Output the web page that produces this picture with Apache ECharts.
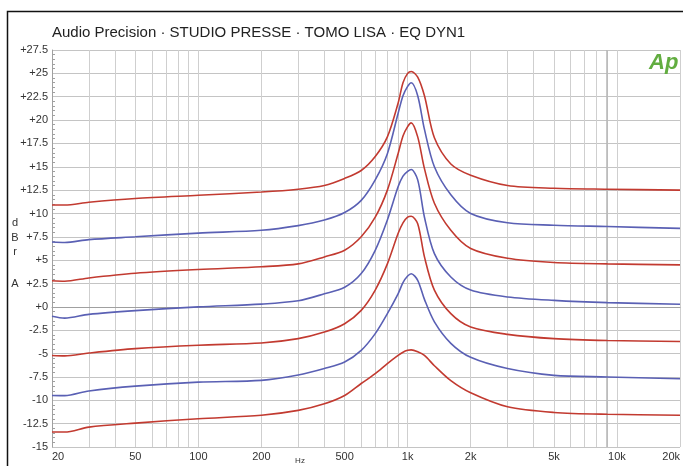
<!DOCTYPE html>
<html><head><meta charset="utf-8">
<script src="https://cdn.jsdelivr.net/npm/echarts@6/dist/echarts.min.js"></script>
<style>html,body{margin:0;padding:0;background:#fff}#c{width:683px;height:466px}</style>
</head><body><div id="c"></div>
<script>
// Frequencies (Hz)
var freqs = [20, 23, 30, 50, 100, 200, 300, 400, 500, 600, 700, 800, 900, 950, 1000, 1040, 1117, 1203, 1342, 1608, 2000, 3000, 5000, 9000, 20000];
// Level curves (dBr A), top to bottom
var red1  = [10.9, 10.9, 11.2, 11.6, 11.95, 12.3, 12.6, 13.0, 13.75, 14.6, 16.1, 18.2, 21.8, 24.0, 25.0, 25.2, 24.6, 22.6, 18.1, 15.3, 14.1, 13.0, 12.7, 12.6, 12.5];
var blue2 = [6.95, 6.9, 7.2, 7.5, 7.9, 8.2, 8.7, 9.3, 10.1, 11.4, 13.6, 16.4, 20.7, 22.6, 23.6, 24.0, 22.6, 19.0, 15.0, 12.0, 10.0, 9.0, 8.74, 8.6, 8.4];
var red3  = [2.8, 2.75, 3.1, 3.6, 4.0, 4.3, 4.6, 5.35, 6.06, 7.5, 9.6, 12.5, 16.4, 18.3, 19.3, 19.7, 18.2, 14.8, 11.1, 8.2, 6.25, 5.2, 4.75, 4.6, 4.5];
var blue4 = [-1.0, -1.2, -0.8, -0.4, 0.0, 0.3, 0.65, 1.4, 2.1, 3.57, 6.06, 9.3, 12.85, 14.0, 14.5, 14.7, 13.6, 9.6, 5.7, 3.2, 1.8, 1.06, 0.7, 0.46, 0.28];
var red5  = [-5.2, -5.25, -4.94, -4.47, -4.1, -3.87, -3.4, -2.7, -1.8, -0.37, 1.8, 4.6, 7.85, 9.0, 9.6, 9.7, 8.9, 5.35, 1.8, -0.72, -2.15, -2.94, -3.4, -3.6, -3.7];
var blue6 = [-9.48, -9.5, -9.0, -8.48, -8.05, -7.87, -7.3, -6.6, -5.9, -4.65, -2.86, -0.72, 1.4, 2.6, 3.3, 3.55, 2.85, 0.8, -1.6, -3.9, -5.4, -6.6, -7.33, -7.5, -7.7];
var red7  = [-13.4, -13.4, -12.87, -12.44, -11.97, -11.6, -11.08, -10.37, -9.48, -8.2, -7.15, -6.08, -5.2, -4.85, -4.65, -4.6, -4.8, -5.2, -6.3, -7.9, -9.2, -10.7, -11.3, -11.5, -11.6];
// Axis ticks
var gridFreqs = [20,30,40,50,60,70,80,90,100,200,300,400,500,600,700,800,900,1000,2000,3000,4000,5000,6000,7000,8000,9000,10000,20000];
var labelFreqs = [20, 50, 100, 200, 500, 1000, 2000, 5000, 10000, 20000];

var RED = '#c23a30', BLUE = '#5a60b4';
var curves = [[red1, RED], [blue2, BLUE], [red3, RED], [blue4, BLUE], [red5, RED], [blue6, BLUE], [red7, RED]];
function lg(f){ return Math.log10(f); }

var series = curves.map(function(c, i){
  return {
    type: 'line', smooth: 0.3, showSymbol: false, silent: true,
    data: freqs.map(function(f, k){ return [lg(f), c[0][k]]; }),
    lineStyle: { color: c[1], width: 1.6 }, z: 5,
    markLine: i === 0 ? { silent: true, symbol: 'none', label: {show: false},
      lineStyle: { color: '#b6b6b6', width: 1.5, type: 'solid' },
      data: [{ xAxis: lg(9000) }] } : undefined
  };
});

var chart = echarts.init(document.getElementById('c'), null, {renderer: 'canvas'});
chart.setOption({
  animation: false,
  backgroundColor: '#fff',
  grid: { left: 52, right: -2, top: 50, bottom: 19, show: false },
  xAxis: {
    type: 'value', min: lg(20), max: lg(20000),
    axisLine: { show: true, lineStyle: { color: '#a0a0a0' } },
    axisTick: { show: false, customValues: gridFreqs.map(lg) },
    axisLabel: { customValues: labelFreqs.map(lg), fontSize: 11, color: '#333', margin: 4,
      fontFamily: 'Liberation Sans', alignMinLabel: 'left', alignMaxLabel: 'right',
      formatter: function(v){ var f = Math.round(Math.pow(10, v)); return f >= 1000 ? (f/1000) + 'k' : String(f); } },
    splitLine: { show: true, lineStyle: { color: '#cfcfcf', width: 1 } }
  },
  yAxis: {
    type: 'value', min: -15, max: 27.5, interval: 2.5,
    axisLine: { show: true, lineStyle: { color: '#a0a0a0' } },
    axisTick: { show: false, inside: true },
    minorTick: { show: true, splitNumber: 5, length: 3, lineStyle: { color: '#a0a0a0' } },
    axisLabel: { fontSize: 11, color: '#333', margin: 4, fontFamily: 'Liberation Sans',
      formatter: function(v){ return v >= 0 ? '+' + v : String(v); } },
    splitLine: { show: true, lineStyle: { color: '#c4c4c4', width: 1 } }
  },
  graphic: [
    { type: 'rect', shape: { x: 7.5, y: 11.5, width: 720, height: 520 }, style: { fill: null, stroke: '#111', lineWidth: 1.5 }, z: 10, silent: true },
    { type: 'text', x: 52, y: 33, style: { text: 'Audio Precision · STUDIO PRESSE · TOMO LISA · EQ DYN1', font: '15px "Liberation Sans"', fill: '#222', textVerticalAlign: 'middle' }, z: 10 },
    { type: 'text', x: 649, y: 63, style: { text: 'Ap', font: 'italic bold 22px "Liberation Sans"', fill: '#62ad40', textVerticalAlign: 'middle' }, z: 10 },
    { type: 'text', x: 15, y: 223, style: { text: 'd', font: '11px "Liberation Sans"', fill: '#333', textAlign: 'center', textVerticalAlign: 'middle' }, z: 10 },
    { type: 'text', x: 15, y: 238, style: { text: 'B', font: '11px "Liberation Sans"', fill: '#333', textAlign: 'center', textVerticalAlign: 'middle' }, z: 10 },
    { type: 'text', x: 15, y: 252, style: { text: 'r', font: '11px "Liberation Sans"', fill: '#333', textAlign: 'center', textVerticalAlign: 'middle' }, z: 10 },
    { type: 'text', x: 15, y: 284, style: { text: 'A', font: '11px "Liberation Sans"', fill: '#333', textAlign: 'center', textVerticalAlign: 'middle' }, z: 10 },
    { type: 'text', x: 300, y: 461, style: { text: 'Hz', font: '8px "Liberation Sans"', fill: '#333', textAlign: 'center', textVerticalAlign: 'middle' }, z: 10 }
  ],
  series: series
});
</script>
</body></html>
